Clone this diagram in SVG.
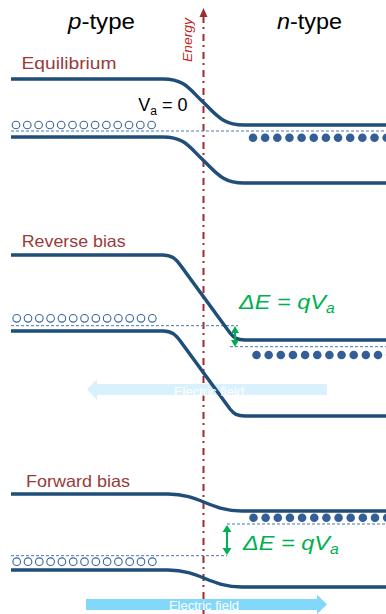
<svg xmlns="http://www.w3.org/2000/svg" xmlns:xlink="http://www.w3.org/1999/xlink" width="386" height="614" viewBox="0 0 386 614">
<style>
.band{fill:none;stroke:#1f4e79;stroke-width:3.5;stroke-linecap:butt}
.fermi{fill:none;stroke:#4a76b4;stroke-width:1;stroke-dasharray:3 2}
.hole{fill:#fff;stroke:#3b64a0;stroke-width:1.1}
.elec{fill:#335f96}
.lbl{font-family:"Liberation Sans",Arial,sans-serif;fill:#9a3b3b;font-size:16.5px}
.title{font-family:"Liberation Sans",Arial,sans-serif;fill:#000;font-size:22px}
.de{font-family:"Liberation Sans",Arial,sans-serif;fill:#00b050;font-size:21px;font-style:italic}
.ef{font-family:"Liberation Sans",Arial,sans-serif;fill:#fff;font-size:13px;text-anchor:middle}
.garrow{stroke:#00b050;stroke-width:2;fill:none}
.ghead{fill:#00b050}
</style>
<defs>
<g id="holes">
<circle class="hole" cx="16" cy="0" r="3.8"/><circle class="hole" cx="27.3" cy="0" r="3.8"/><circle class="hole" cx="38.6" cy="0" r="3.8"/><circle class="hole" cx="49.9" cy="0" r="3.8"/><circle class="hole" cx="61.2" cy="0" r="3.8"/><circle class="hole" cx="72.5" cy="0" r="3.8"/><circle class="hole" cx="83.8" cy="0" r="3.8"/><circle class="hole" cx="95.1" cy="0" r="3.8"/><circle class="hole" cx="106.4" cy="0" r="3.8"/><circle class="hole" cx="117.7" cy="0" r="3.8"/><circle class="hole" cx="129" cy="0" r="3.8"/><circle class="hole" cx="140.3" cy="0" r="3.8"/><circle class="hole" cx="151.6" cy="0" r="3.8"/>
</g>
<g id="elecs">
<circle class="elec" cx="0" cy="0" r="4.3"/><circle class="elec" cx="12.15" cy="0" r="4.3"/><circle class="elec" cx="24.3" cy="0" r="4.3"/><circle class="elec" cx="36.45" cy="0" r="4.3"/><circle class="elec" cx="48.6" cy="0" r="4.3"/><circle class="elec" cx="60.75" cy="0" r="4.3"/><circle class="elec" cx="72.9" cy="0" r="4.3"/><circle class="elec" cx="85.05" cy="0" r="4.3"/><circle class="elec" cx="97.2" cy="0" r="4.3"/><circle class="elec" cx="109.35" cy="0" r="4.3"/><circle class="elec" cx="121.5" cy="0" r="4.3"/><circle class="elec" cx="133.65" cy="0" r="4.3"/>
</g>
</defs>
<rect width="386" height="614" fill="#fff"/>

<g id="energy-axis">
<line x1="203.5" y1="16" x2="203.5" y2="614" stroke="#9b2d30" stroke-width="2" stroke-dasharray="7 4 2 5"/>
<polygon points="203.5,8 199.5,17 207.5,17" fill="#9b2d30"/>
<text transform="translate(192,62) rotate(-90)" font-family="'Liberation Sans',Arial,sans-serif" font-size="13.5" font-style="italic" fill="#c0282b" textLength="44" lengthAdjust="spacingAndGlyphs">Energy</text>
</g>

<g id="titles">
<text class="title" x="68" y="29" textLength="67" lengthAdjust="spacingAndGlyphs"><tspan font-style="italic">p</tspan>-type</text>
<text class="title" x="277" y="29" textLength="65" lengthAdjust="spacingAndGlyphs"><tspan font-style="italic">n</tspan>-type</text>
</g>

<g id="fields">
<g id="field-reverse">
<path d="M327,384 H97 V379 L87,389.5 L97,400 V395 H327 Z" fill="#d9f1fc"/>
</g>
<g id="field-forward">
<path d="M86,599 H317 V594.5 L327,604.5 L317,614 V610 H86 Z" fill="#82d8fa"/>
</g>
</g>

<g id="equilibrium">
<text class="lbl" x="21.5" y="68.5" textLength="95" lengthAdjust="spacingAndGlyphs">Equilibrium</text>
<line class="fermi" x1="11" y1="131" x2="386" y2="131"/>
<use xlink:href="#holes" transform="translate(0,125)"/>
<use xlink:href="#elecs" transform="translate(253,137.7)"/>
<path class="band" d="M11,79 H163 C185,79 190,90 203,102 C216,114 222,125 244,125 H386"/>
<path class="band" d="M11,137 H163 C185,137 190,148 203,160 C216,172 222,183 244,183 H386"/>
<text font-family="'Liberation Sans',Arial,sans-serif" font-size="18" fill="#000" x="138.3" y="111">V<tspan font-size="12" dy="4">a</tspan><tspan dy="-4"> = 0</tspan></text>
</g>

<g id="reverse">
<text class="lbl" x="21.7" y="247" textLength="104" lengthAdjust="spacingAndGlyphs">Reverse bias</text>
<line class="fermi" x1="11" y1="325.7" x2="238" y2="325.7"/>
<line class="fermi" x1="230" y1="346.7" x2="386" y2="346.7"/>
<use xlink:href="#holes" transform="translate(0.7,318.3)"/>
<use xlink:href="#elecs" transform="translate(256.5,355)"/>
<path class="band" d="M11,255 H163 C172,255 176,259 181,266 L230,333 C234,338 237,340 245,340 H386"/>
<path class="band" d="M11,331 H163 C172,331 176,335 181,342 L230,409 C234,414 237,416 245,416 H386"/>
<line class="garrow" x1="235" y1="331" x2="235" y2="342"/>
<polygon class="ghead" points="235,326 231,333 239,333"/>
<polygon class="ghead" points="235,347 231,340 239,340"/>
<text class="de" transform="translate(239,309.3) scale(1.12,1)">ΔE = qV<tspan font-size="14" dy="4">a</tspan></text>
</g>

<g id="forward">
<text class="lbl" x="26" y="486.7" textLength="104" lengthAdjust="spacingAndGlyphs">Forward bias</text>
<line class="fermi" x1="227" y1="524" x2="386" y2="524"/>
<line class="fermi" x1="11" y1="555.7" x2="227" y2="555.7"/>
<use xlink:href="#holes" transform="translate(0.7,561.7)"/>
<use xlink:href="#elecs" transform="translate(253.5,517.7)"/>
<path class="band" d="M11,494 H168 C200,494 210,511 242,511 H386"/>
<path class="band" d="M11,570 H168 C200,570 210,587 242,587 H386"/>
<line class="garrow" x1="227" y1="530" x2="227" y2="550"/>
<polygon class="ghead" points="227,525 222.5,532 231.5,532"/>
<polygon class="ghead" points="227,555 222.5,548 231.5,548"/>
<text class="de" transform="translate(243,550) scale(1.12,1)">ΔE = qV<tspan font-size="14" dy="4">a</tspan></text>
</g>

<g id="field-labels">
<text class="ef" x="209" y="395.5">Electric field</text>
<text class="ef" x="204" y="609.5">Electric field</text>
</g>
</svg>
